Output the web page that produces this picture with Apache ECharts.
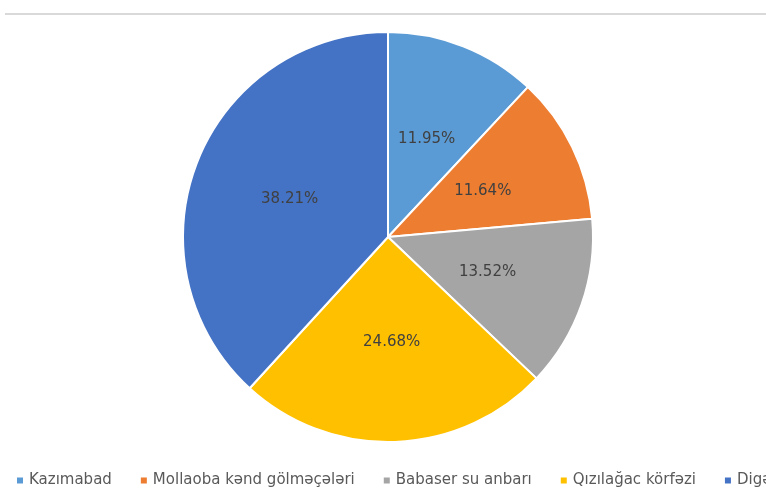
<!DOCTYPE html>
<html><head><meta charset="utf-8">
<script src="https://cdn.jsdelivr.net/npm/echarts@6/dist/echarts.min.js"></script>
<style>html,body{margin:0;padding:0;background:#fff}#c{width:766px;height:497px}</style>
</head><body><div id="c"></div>
<script>
const categories = ["Kazımabad", "Mollaoba kənd gölməçələri", "Babaser su anbarı", "Qızılağac körfəzi", "Digər"];
const values = [11.95, 11.64, 13.52, 24.68, 38.21];
const colors = ["#5B9BD5", "#ED7D31", "#A5A5A5", "#FFC000", "#4472C4"];

const chart = echarts.init(document.getElementById('c'), null, {renderer: 'canvas'});
chart.setOption({
  animation: false,
  color: colors,
  graphic: [{
    type: 'rect', shape: {x: 5, y: 13, width: 761, height: 2},
    style: {fill: '#d9d9d9'}, silent: true
  }],
  legend: {
    data: categories,
    left: 10, top: 468, width: 900,
    icon: 'rect', itemWidth: 8, itemHeight: 8, itemGap: 27,
    textStyle: {fontFamily: 'DejaVu Sans', fontSize: 15, color: '#595959'}
  },
  series: [{
    type: 'pie',
    center: [388, 237],
    radius: [0, 205],
    startAngle: 90,
    clockwise: true,
    itemStyle: {borderColor: '#fff', borderWidth: 2},
    label: {
      show: true, position: 'inside',
      formatter: p => p.value.toFixed(2) + '%',
      fontFamily: 'DejaVu Sans', fontSize: 15, color: '#404040'
    },
    labelLine: {show: false},
    data: categories.map((c, i) => ({name: c, value: values[i]}))
  }]
});
</script></body></html>
